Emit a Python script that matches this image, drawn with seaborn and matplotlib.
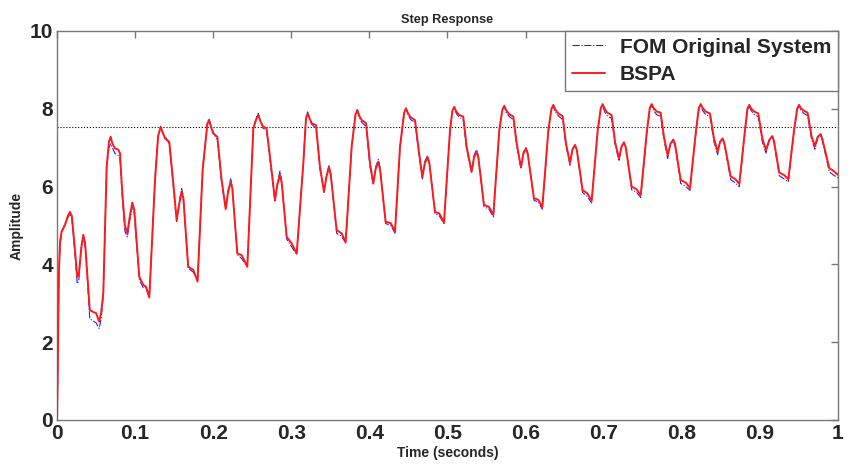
import matplotlib
matplotlib.use("Agg")
import matplotlib.pyplot as plt
import seaborn as sns

time_s = [
    0.0, 0.0008, 0.0015, 0.0025, 0.004, 0.006, 0.010, 0.014, 0.0166, 0.019, 0.022, 0.026,
    0.028, 0.031, 0.0337, 0.036, 0.039, 0.042, 0.046, 0.050, 0.054, 0.0565, 0.0593,
    0.0636, 0.0665, 0.0687, 0.071, 0.0743, 0.0785, 0.0807, 0.0836, 0.087, 0.090, 0.093, 0.0964, 0.099, 0.1054, 0.1105, 0.114, 0.1182,
    0.1255, 0.1295, 0.1327, 0.1352, 0.1383, 0.1438, 0.149, 0.1532, 0.1565, 0.1596, 0.1618, 0.168, 0.1745, 0.180,
    0.1865, 0.1925, 0.1946, 0.197, 0.200, 0.2053, 0.2108, 0.216, 0.219, 0.2224, 0.2245, 0.2309, 0.2364, 0.2437,
    0.2514, 0.2555, 0.2578, 0.2605, 0.264, 0.2683, 0.2727, 0.2791, 0.2822, 0.2855, 0.2877, 0.2941, 0.3005, 0.3069,
    0.3154, 0.3188, 0.321, 0.3235, 0.3261, 0.3316, 0.3367, 0.3419, 0.345, 0.3483, 0.3505, 0.3581, 0.3645, 0.3696,
    0.3773, 0.3822, 0.3845, 0.387, 0.3902, 0.3957, 0.4008, 0.405, 0.408, 0.4114, 0.4136, 0.4208, 0.4273, 0.4328,
    0.4392, 0.4445, 0.4469, 0.4495, 0.4529, 0.4584, 0.4626, 0.4678, 0.471, 0.4746, 0.4768, 0.484, 0.4895, 0.4955,
    0.5032, 0.5063, 0.5087, 0.5113, 0.5151, 0.5202, 0.5245, 0.5309, 0.534, 0.5373, 0.5395, 0.5467, 0.5531, 0.5587,
    0.5663, 0.5703, 0.5727, 0.5753, 0.5791, 0.5843, 0.5886, 0.5941, 0.5972, 0.6005, 0.6027, 0.6107, 0.6163, 0.6214,
    0.6291, 0.6331, 0.6355, 0.6381, 0.6419, 0.6475, 0.6517, 0.6569, 0.66, 0.6633, 0.6655, 0.673, 0.6789, 0.6846,
    0.6923, 0.6963, 0.6987, 0.7013, 0.7046, 0.7102, 0.7145, 0.7196, 0.7228, 0.726, 0.7282, 0.7358, 0.7422, 0.7474,
    0.755, 0.759, 0.7614, 0.764, 0.7678, 0.7729, 0.7772, 0.7819, 0.7855, 0.7891, 0.7913, 0.7986, 0.8053, 0.8105,
    0.8182, 0.8218, 0.8242, 0.8268, 0.8306, 0.8361, 0.8412, 0.8459, 0.849, 0.8523, 0.8545, 0.8626, 0.8681, 0.8736,
    0.8809, 0.884, 0.8864, 0.889, 0.8928, 0.8979, 0.9031, 0.9078, 0.912, 0.9159, 0.918, 0.9248, 0.9308, 0.9364,
    0.9437, 0.9477, 0.9501, 0.9527, 0.9565, 0.9611, 0.9663, 0.9705, 0.974, 0.9778, 0.98, 0.9889, 0.994, 1.0,
]

# reduced model (BSPA)
bspa = [
    0.0, 1.0, 2.3, 3.8, 4.6, 4.85, 5.0, 5.25, 5.35, 5.25, 4.6, 3.68,
    3.75, 4.4, 4.76, 4.55, 3.7, 2.83, 2.78, 2.75, 2.53, 2.75, 3.26,
    6.51, 7.15, 7.28, 7.1, 6.98, 6.95, 6.85, 5.83, 5.0, 4.8, 5.2, 5.59, 5.4, 3.68, 3.47, 3.43, 3.15,
    6.17, 7.3, 7.54, 7.4, 7.24, 7.15, 6.08, 5.14, 5.55, 5.87, 5.7, 3.94, 3.86, 3.56,
    6.43, 7.6, 7.71, 7.55, 7.37, 7.28, 6.17, 5.42, 5.85, 6.13, 5.95, 4.28, 4.24, 3.94,
    7.5, 7.75, 7.84, 7.68, 7.54, 7.5, 6.77, 5.66, 6.05, 6.3, 6.1, 4.71, 4.54, 4.28,
    6.6, 7.75, 7.88, 7.75, 7.63, 7.58, 6.51, 5.87, 6.25, 6.5, 6.3, 4.88, 4.8, 4.57,
    7.03, 7.85, 7.97, 7.82, 7.71, 7.63, 6.6, 6.08, 6.45, 6.64, 6.45, 5.1, 5.06, 4.84,
    7.03, 7.9, 8.01, 7.88, 7.78, 7.71, 7.03, 6.24, 6.6, 6.75, 6.6, 5.35, 5.31, 5.08,
    7.45, 7.95, 8.05, 7.93, 7.84, 7.8, 7.03, 6.38, 6.75, 6.9, 6.75, 5.53, 5.48, 5.27,
    7.45, 7.98, 8.08, 7.96, 7.86, 7.8, 7.11, 6.5, 6.85, 6.98, 6.85, 5.7, 5.66, 5.47,
    7.45, 8.0, 8.1, 7.98, 7.88, 7.81, 7.11, 6.61, 6.95, 7.07, 6.95, 5.91, 5.83, 5.64,
    7.45, 8.02, 8.12, 8.0, 7.9, 7.84, 7.15, 6.73, 7.02, 7.14, 7.02, 6.0, 5.93, 5.78,
    7.37, 8.02, 8.12, 8.02, 7.93, 7.9, 7.28, 6.81, 7.1, 7.21, 7.1, 6.17, 6.1, 5.96,
    7.45, 8.02, 8.12, 8.02, 7.93, 7.88, 7.24, 6.9, 7.15, 7.24, 7.12, 6.26, 6.2, 6.07,
    7.45, 8.0, 8.1, 8.0, 7.93, 7.88, 7.24, 6.94, 7.2, 7.3, 7.18, 6.36, 6.3, 6.19,
    7.45, 8.0, 8.1, 8.01, 7.95, 7.9, 7.28, 7.04, 7.28, 7.35, 7.22, 6.47, 6.41, 6.3,
]

# full order model (FOM)
fom = [
    0.0, 1.0, 2.3, 3.8, 4.5, 4.8, 5.05, 5.2, 5.3, 5.2, 4.5, 3.5,
    3.6, 4.5, 4.7, 4.45, 3.6, 2.6, 2.55, 2.5, 2.35, 2.6, 3.2,
    6.5, 7.0, 7.1, 7.0, 6.85, 6.8, 6.7, 5.75, 4.85, 4.7, 5.1, 5.5, 5.3, 3.6, 3.4, 3.4, 3.15,
    6.2, 7.3, 7.5, 7.38, 7.3, 7.1, 6.0, 5.1, 5.6, 5.95, 5.75, 3.9, 3.8, 3.6,
    6.45, 7.65, 7.75, 7.58, 7.4, 7.2, 6.1, 5.45, 5.9, 6.2, 6.0, 4.25, 4.15, 3.95,
    7.5, 7.8, 7.88, 7.68, 7.5, 7.45, 6.7, 5.6, 6.1, 6.4, 6.15, 4.65, 4.45, 4.25,
    6.6, 7.8, 7.92, 7.72, 7.6, 7.5, 6.45, 5.85, 6.3, 6.55, 6.35, 4.8, 4.72, 4.55,
    7.0, 7.88, 7.98, 7.78, 7.65, 7.55, 6.5, 6.05, 6.5, 6.7, 6.5, 5.05, 5.0, 4.8,
    7.0, 7.92, 8.02, 7.84, 7.72, 7.65, 6.95, 6.2, 6.65, 6.8, 6.62, 5.3, 5.25, 5.05,
    7.4, 7.95, 8.03, 7.88, 7.78, 7.72, 6.95, 6.35, 6.8, 6.95, 6.78, 5.48, 5.42, 5.22,
    7.4, 7.98, 8.06, 7.9, 7.8, 7.72, 7.05, 6.45, 6.88, 7.0, 6.86, 5.65, 5.6, 5.42,
    7.4, 8.0, 8.06, 7.92, 7.82, 7.72, 7.05, 6.55, 6.98, 7.05, 6.96, 5.85, 5.75, 5.58,
    7.4, 8.0, 8.08, 7.92, 7.82, 7.75, 7.1, 6.65, 7.05, 7.1, 7.0, 5.92, 5.85, 5.72,
    7.3, 8.0, 8.08, 7.95, 7.85, 7.8, 7.2, 6.72, 7.1, 7.15, 7.05, 6.08, 6.0, 5.9,
    7.4, 8.0, 8.08, 7.95, 7.85, 7.8, 7.15, 6.82, 7.15, 7.2, 7.08, 6.18, 6.1, 6.0,
    7.4, 7.98, 8.06, 7.95, 7.85, 7.8, 7.15, 6.86, 7.18, 7.25, 7.12, 6.28, 6.2, 6.12,
    7.4, 7.98, 8.06, 7.95, 7.88, 7.82, 7.2, 6.96, 7.25, 7.3, 7.18, 6.38, 6.3, 6.22,
]

steady_state = 7.54
x_ticks = [0, 0.1, 0.2, 0.3, 0.4, 0.5, 0.6, 0.7, 0.8, 0.9, 1]
x_tick_labels = ["0", "0.1", "0.2", "0.3", "0.4", "0.5", "0.6", "0.7", "0.8", "0.9", "1"]
y_ticks = [0, 2, 4, 6, 8, 10]

sns.set_style("white")
plt.rcParams["font.family"] = ["Liberation Sans", "DejaVu Sans"]

fig = plt.figure(figsize=(8.48, 4.70), dpi=100)
ax = fig.add_axes([0.0672, 0.1064, 0.9210, 0.8277])

sns.lineplot(x=time_s, y=fom, ax=ax, sort=False, estimator=None,
             color="#2020ff", linestyle="-.", linewidth=0.8,
             label="FOM Original System", zorder=2)
sns.lineplot(x=time_s, y=bspa, ax=ax, sort=False, estimator=None,
             color="#ff1a1a", linewidth=1.4, label="BSPA", zorder=3)
ax.axhline(steady_state, color="black", linestyle=":", linewidth=0.8, zorder=1)

ax.set_xlim(0, 1)
ax.set_ylim(0, 10)
ax.set_xticks(x_ticks)
ax.set_xticklabels(x_tick_labels)
ax.set_yticks(y_ticks)
ax.tick_params(direction="in", length=5, width=1, color="#777777",
               top=True, right=True, labelsize=15, pad=3)
for lab in ax.get_xticklabels() + ax.get_yticklabels():
    lab.set_fontweight("bold")
for s in ax.spines.values():
    s.set_color("#777777")
    s.set_linewidth(1)

ax.set_title("Step Response", fontsize=9.2, fontweight="bold", pad=6)
ax.set_xlabel("Time (seconds)", fontsize=10, fontweight="bold", labelpad=2)
ax.set_ylabel("Amplitude", fontsize=10, fontweight="bold", labelpad=4)

leg = ax.legend(loc="upper right", borderaxespad=0, fancybox=False,
                framealpha=1, edgecolor="#777777", handlelength=1.6,
                handletextpad=0.7, prop={"size": 15, "weight": "bold"},
                borderpad=0.32, labelspacing=0.42)
leg.get_frame().set_linewidth(1)

fig.savefig("out.png", dpi=100)
